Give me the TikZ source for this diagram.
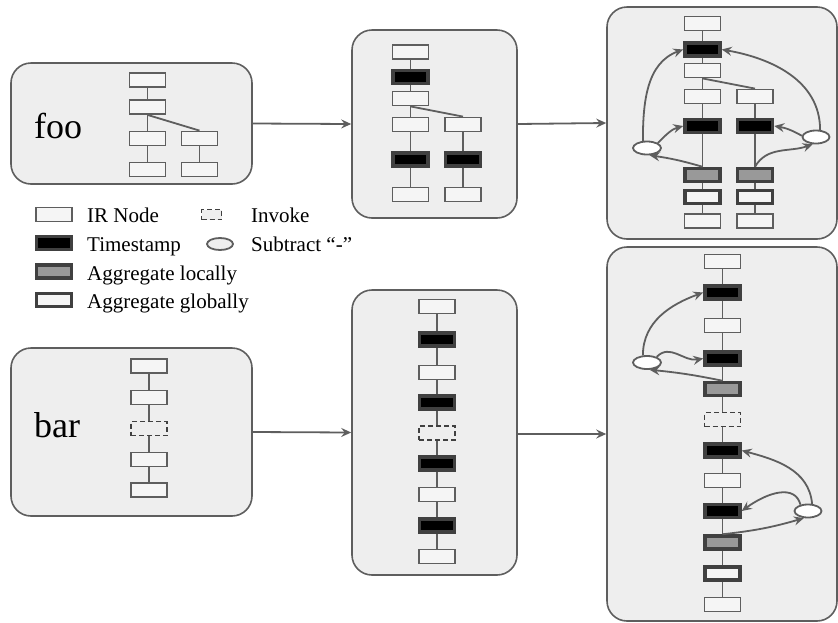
\documentclass[tikz,border=0pt]{standalone}
\usepackage{fontspec}
\setmainfont{Liberation Serif}
\usetikzlibrary{arrows.meta,positioning,shapes.geometric}
\definecolor{panelgray}{HTML}{EEEEEE}
\definecolor{boxgray}{HTML}{F5F5F5}
\definecolor{linegray}{HTML}{5E5E5E}
\definecolor{edgegray}{HTML}{404040}
\tikzset{
    panel/.style={draw=linegray, line width=1.6pt, fill=panelgray, rounded corners=20pt, inner sep=0pt},
    ir/.style={draw=linegray, line width=1.8pt, fill=boxgray, minimum width=36pt, minimum height=14pt, inner sep=0pt},
    ts/.style={draw=edgegray, line width=3.5pt, fill=black, minimum width=35pt, minimum height=13pt, inner sep=0pt},
    aggl/.style={ts, fill=black!40},
    aggg/.style={ts, fill=boxgray},
    inv/.style={ir, draw=edgegray, fill=panelgray, dash pattern=on 5pt off 3pt},
    sub/.style={ellipse, draw=linegray, line width=1.8pt, fill=white, minimum width=28pt, minimum height=13pt, inner sep=0pt},
    link/.style={draw=linegray, line width=1.8pt},
    flow/.style={link, -{Stealth[length=10pt,width=9pt,inset=3.5pt]}},
    name text/.style={anchor=base west, inner sep=0pt, font=\fontsize{36}{40}\selectfont},
    key text/.style={anchor=base west, inner sep=0pt, font=\fontsize{21}{25}\selectfont}
}

\begin{document}
\begin{tikzpicture}[x=1pt,y=-1pt]
\useasboundingbox (0,0) rectangle (838,622);

% panels
\node[panel, minimum width=241pt, minimum height=121pt] (foo) at (131.5,123.5) {};
\node[panel, minimum width=165pt, minimum height=188pt] (fooA) at (434.5,124) {};
\node[panel, minimum width=230pt, minimum height=232pt] (fooB) at (722,123) {};
\node[panel, minimum width=241pt, minimum height=168pt] (bar) at (131.5,432) {};
\node[panel, minimum width=165pt, minimum height=285pt] (barA) at (434.5,432.5) {};
\node[panel, minimum width=230pt, minimum height=374pt] (barB) at (722,434) {};

\node[name text] (foot) at (34,138) {foo};
\node[name text] (bart) at (34,437) {bar};

\draw[flow] (foo.east) -- (fooA.west);
\draw[flow] (fooA.east) -- (fooB.west);
\draw[flow] (bar.east) -- (barA.west);
\draw[flow] (barA.east |- 0,434) -- (barB.west |- 0,434);

% foo
\foreach \s/\y [count=\i] in {ir/80,ir/107,ir/138.5,ir/169.5}
  \node[\s] (fa\i) at (147.5,\y) {};
\foreach \s/\y [count=\i] in {ir/138.5,ir/169.5}
  \node[\s] (fb\i) at (199.5,\y) {};
\foreach \i/\j in {1/2,2/3,3/4}
  \draw[link] (fa\i) -- (fa\j);
\draw[link] (fb1) -- (fb2);
\draw[link] (fa2.south) -- (fb1.north);

% foo, timestamps
\foreach \s/\y [count=\i] in {ir/52,ts/77,ir/98.5,ir/124.5,ts/159.5,ir/194.5}
  \node[\s] (ga\i) at (410.5,\y) {};
\foreach \s/\y [count=\i] in {ir/124.5,ts/159.5,ir/194.5}
  \node[\s] (gb\i) at (463,\y) {};
\foreach \i/\j in {1/2,2/3,3/4,4/5,5/6}
  \draw[link] (ga\i) -- (ga\j);
\foreach \i/\j in {1/2,2/3}
  \draw[link] (gb\i) -- (gb\j);
\draw[link] (ga3.south) -- (gb1.north);

% foo, aggregated
\foreach \s/\y [count=\i] in {ir/23.5,ts/49.5,ir/70.5,ir/96.5,ts/126,aggl/175,aggg/197,ir/221}
  \node[\s] (ha\i) at (702.5,\y) {};
\foreach \s/\y [count=\i] in {ir/96.5,ts/126,aggl/175,aggg/197,ir/221}
  \node[\s] (hb\i) at (755,\y) {};
\foreach \i/\j in {1/2,2/3,3/4,4/5,5/6,6/7,7/8}
  \draw[link] (ha\i) -- (ha\j);
\foreach \i/\j in {1/2,2/3,3/4,4/5}
  \draw[link] (hb\i) -- (hb\j);
\draw[link] (ha3.south) -- (hb1.north);

\node[sub] (hl) at (647,148) {};
\node[sub, minimum width=27pt] (hr) at (816,137) {};
\draw[flow] (hl.120) to[out=90,in=200] (ha2.west);
\draw[flow] (hl.25) to[out=45,in=195] (ha5.west);
\draw[flow] (ha6.north) to[bend right=4] (hl.-70);
\draw[flow] (hr.60) to[out=90,in=-10] (ha2.east);
\draw[flow] (hr.175) to[bend right=10] (hb2.east);
\draw[flow] (hb3.north) to[out=60,in=200] (hr.-115);

% bar
\foreach \s/\y [count=\i] in {ir/366,ir/397.5,inv/428.5,ir/459.5,ir/490}
  \node[\s] (pa\i) at (149,\y) {};
\foreach \i/\j in {1/2,2/3,3/4,4/5}
  \draw[link] (pa\i) -- (pa\j);

% bar, timestamps
\foreach \s/\y [count=\i] in {ir/306.5,ts/339.5,ir/372.5,ts/402.5,inv/433,ts/463.5,ir/494.5,ts/525.5,ir/556.5}
  \node[\s] (qa\i) at (437,\y) {};
\foreach \i/\j in {1/2,2/3,3/4,4/5,5/6,6/7,7/8,8/9}
  \draw[link] (qa\i) -- (qa\j);

% bar, aggregated
\foreach \s/\y [count=\i] in {ir/261.5,ts/292.5,ir/325.5,ts/358.5,aggl/389,inv/419.5,ts/450.5,ir/480.5,ts/511,aggl/542.5,aggg/573.5,ir/604.5}
  \node[\s] (ra\i) at (722.5,\y) {};
\foreach \i/\j in {1/2,2/3,3/4,4/5,5/6,6/7,7/8,8/9,9/10,10/11,11/12}
  \draw[link] (ra\i) -- (ra\j);

\node[sub] (rl) at (647,362.5) {};
\node[sub, minimum width=27pt] (rr) at (808,511) {};
\draw[flow] (rl.120) to[out=90,in=200] (ra2.west);
\draw[flow] (rl.30) .. controls (670,343) and (684,362) .. (ra4.west);
\draw[flow] (ra5.north) to[bend right=3] (rl.-70);
\draw[flow] (rr.60) to[out=95,in=-15] (ra7.east);
\draw[flow] (rr.140) .. controls (795,484) and (768,492) .. (ra9.east);
\draw[flow] (ra10.north) to[bend right=5] (rr.-120);

% legend
\node[ir] (kir) at (54,214.5) {};
\node[ts] (kts) at (54,243) {};
\node[aggl] (kal) at (54,271.5) {};
\node[aggg] (kag) at (54,300) {};
\node[inv, minimum width=20pt, minimum height=10pt] (kin) at (211.5,214.5) {};
\node[sub, fill=panelgray, minimum width=26pt, minimum height=12pt] (ksu) at (220,244) {};
\node[key text] (kirt) at (87,222) {IR Node};
\node[key text] (ktst) at (87,251) {Timestamp};
\node[key text] (kalt) at (87,280) {Aggregate locally};
\node[key text] (kagt) at (87,308.5) {Aggregate globally};
\node[key text] (kint) at (251,222) {Invoke};
\node[key text] (ksut) at (251,251) {Subtract “-”};

\end{tikzpicture}
\end{document}
